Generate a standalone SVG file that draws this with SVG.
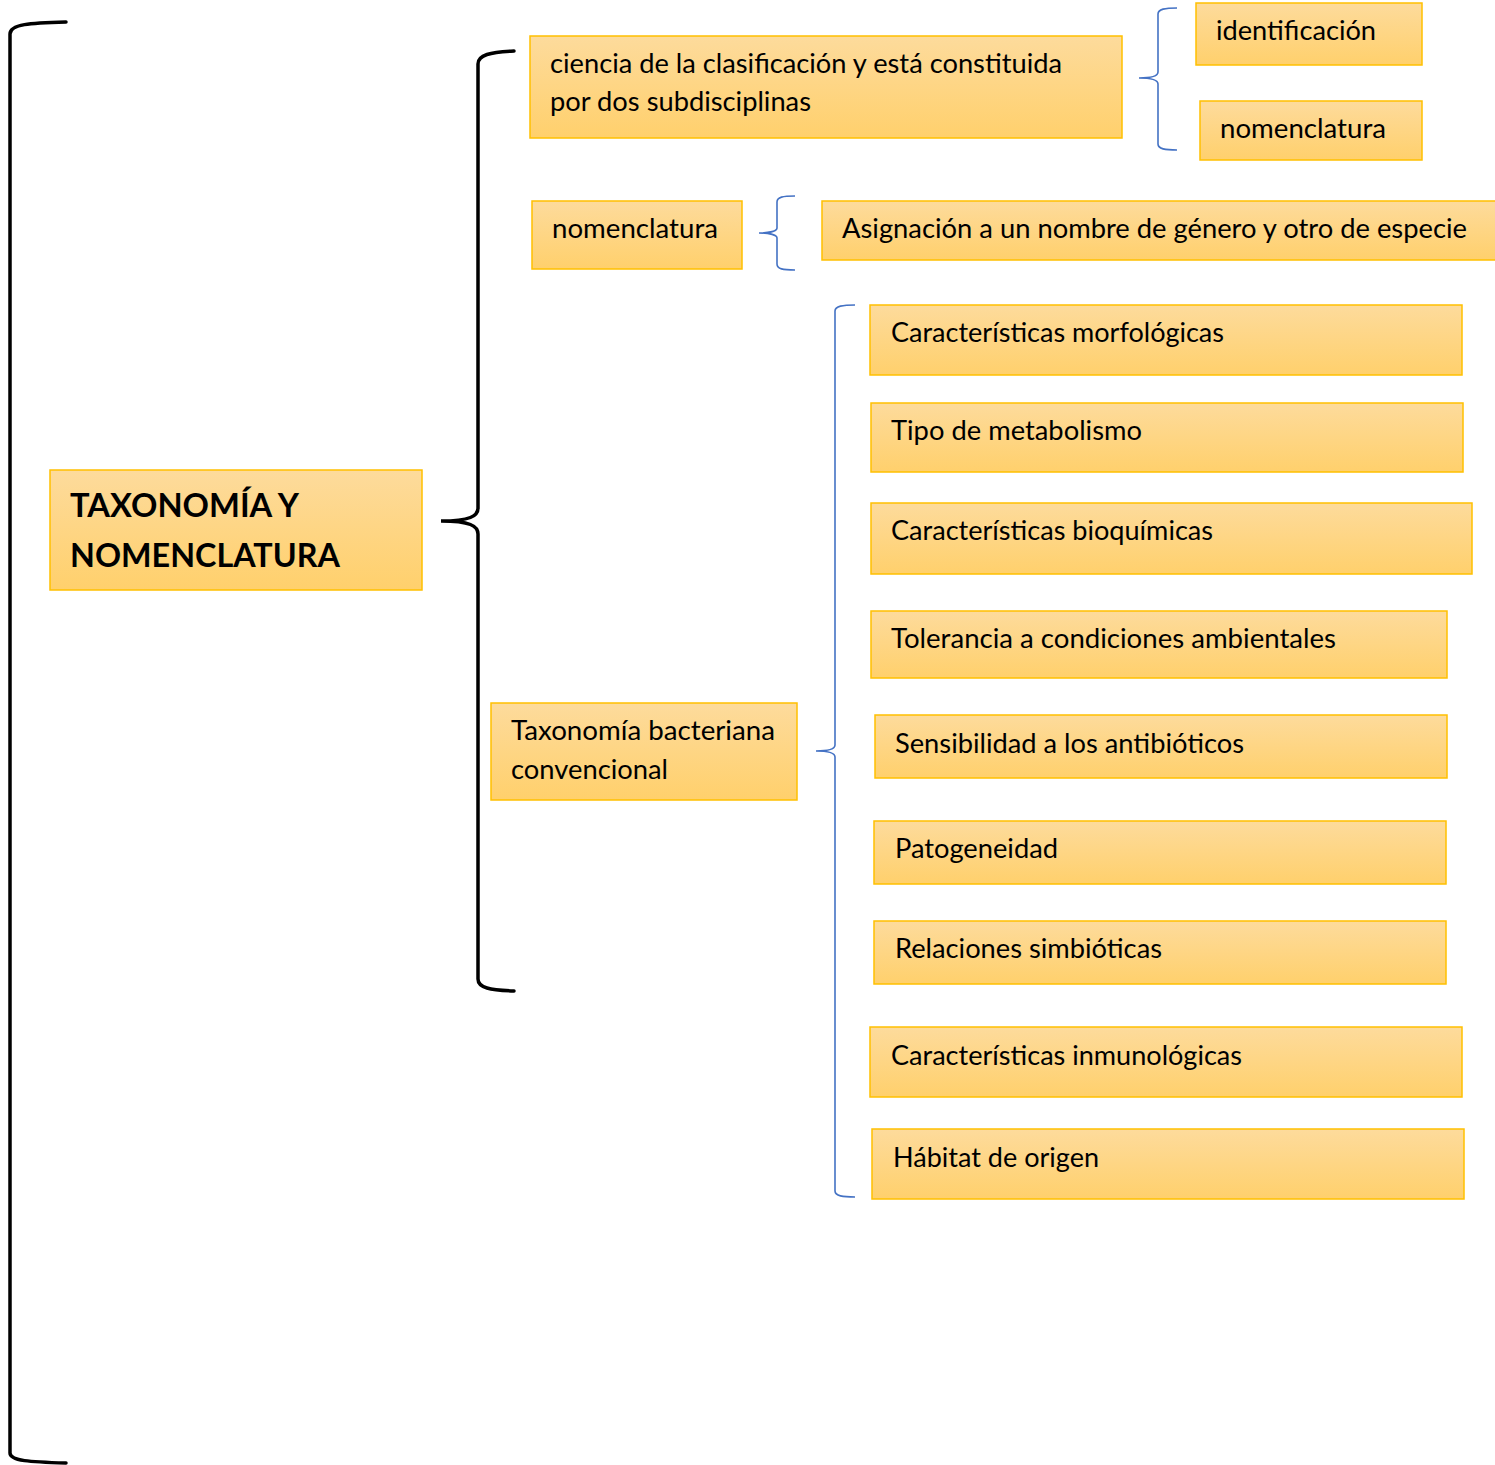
<svg xmlns="http://www.w3.org/2000/svg" width="1495" height="1465" viewBox="0 0 1495 1465">
<defs>
<linearGradient id="g" x1="0" y1="0" x2="0" y2="1">
<stop offset="0" stop-color="#FDDB9C"/>
<stop offset="1" stop-color="#FFD06C"/>
</linearGradient>
</defs>
<style>
.box{fill:url(#g);stroke:#FFC000;stroke-width:1.5}
.t{font-family:Lato,"Liberation Sans",sans-serif;font-size:26px;fill:#000}
.b{font-family:Lato,"Liberation Sans",sans-serif;font-size:32px;font-weight:bold;fill:#000}
.kb{fill:none;stroke:#000;stroke-width:3.5;stroke-linecap:round}
.kl{fill:none;stroke:#4472C4;stroke-width:1.6}
</style>
<rect width="1495" height="1465" fill="#fff"/>
<g id="connectors">
<path class="kb" d="M66,22 C30,23 10,24 10,34 L10,1453 C10,1461 30,1462 66,1463"/>
<path class="kb" d="M514,51 C490,52 478,55 478,64 L478,508 C478,516 470,521 441,521 C470,521 478,526 478,534 L478,979 C478,988 490,990 514,991"/>
<path class="kl" d="M1177,8 C1165,8 1158,9 1158,14 L1158,72 C1158,76 1150,78 1139,78 C1150,78 1158,80 1158,84 L1158,144 C1158,149 1165,150 1177,150"/>
<path class="kl" d="M795,196 C783,196 777,197 777,202 L777,228 C777,231 770,233 759,233 C770,233 777,235 777,238 L777,264 C777,269 783,270 795,270"/>
<path class="kl" d="M855,305 C843,305 835,306 835,311 L835,745 C835,749 828,751 816,751 C828,751 835,753 835,757 L835,1191 C835,1196 843,1197 855,1197"/>
</g>
<g id="n-main"><rect class="box" x="50" y="470" width="372" height="120"/>
<text class="b" x="70" y="517" textLength="229" lengthAdjust="spacingAndGlyphs">TAXONOMÍA Y</text>
<text class="b" x="70" y="567" textLength="270" lengthAdjust="spacingAndGlyphs">NOMENCLATURA</text></g>
<g id="n-ciencia"><rect class="box" x="530" y="36" width="592" height="102"/>
<text class="t" x="550" y="73" textLength="512" lengthAdjust="spacingAndGlyphs">ciencia de la clasificación y está constituida</text>
<text class="t" x="550" y="111" textLength="261" lengthAdjust="spacingAndGlyphs">por dos subdisciplinas</text></g>
<g id="n-ident"><rect class="box" x="1196" y="3" width="226" height="62"/>
<text class="t" x="1216" y="40" textLength="160" lengthAdjust="spacingAndGlyphs">identificación</text></g>
<g id="n-nom1"><rect class="box" x="1200" y="101" width="222" height="59"/>
<text class="t" x="1220" y="138" textLength="166" lengthAdjust="spacingAndGlyphs">nomenclatura</text></g>
<g id="n-nom2"><rect class="box" x="532" y="201" width="210" height="68"/>
<text class="t" x="552" y="238" textLength="166" lengthAdjust="spacingAndGlyphs">nomenclatura</text></g>
<g id="n-asig"><rect class="box" x="822" y="201" width="680" height="59"/>
<text class="t" x="842" y="238" textLength="625" lengthAdjust="spacingAndGlyphs">Asignación a un nombre de género y otro de especie</text></g>
<g id="n-taxb"><rect class="box" x="491" y="703" width="306" height="97"/>
<text class="t" x="511" y="740" textLength="264" lengthAdjust="spacingAndGlyphs">Taxonomía bacteriana</text>
<text class="t" x="511" y="779" textLength="157" lengthAdjust="spacingAndGlyphs">convencional</text></g>
<g id="n-l1"><rect class="box" x="870" y="305" width="592" height="70"/>
<text class="t" x="891" y="342" textLength="333" lengthAdjust="spacingAndGlyphs">Características morfológicas</text></g>
<g id="n-l2"><rect class="box" x="871" y="403" width="592" height="69"/>
<text class="t" x="891" y="440" textLength="251" lengthAdjust="spacingAndGlyphs">Tipo de metabolismo</text></g>
<g id="n-l3"><rect class="box" x="871" y="503" width="601" height="71"/>
<text class="t" x="891" y="540" textLength="322" lengthAdjust="spacingAndGlyphs">Características bioquímicas</text></g>
<g id="n-l4"><rect class="box" x="871" y="611" width="576" height="67"/>
<text class="t" x="891" y="648" textLength="445" lengthAdjust="spacingAndGlyphs">Tolerancia a condiciones ambientales</text></g>
<g id="n-l5"><rect class="box" x="875" y="715" width="572" height="63"/>
<text class="t" x="895" y="753" textLength="349" lengthAdjust="spacingAndGlyphs">Sensibilidad a los antibióticos</text></g>
<g id="n-l6"><rect class="box" x="874" y="821" width="572" height="63"/>
<text class="t" x="895" y="858" textLength="163" lengthAdjust="spacingAndGlyphs">Patogeneidad</text></g>
<g id="n-l7"><rect class="box" x="874" y="921" width="572" height="63"/>
<text class="t" x="895" y="958" textLength="267" lengthAdjust="spacingAndGlyphs">Relaciones simbióticas</text></g>
<g id="n-l8"><rect class="box" x="870" y="1027" width="592" height="70"/>
<text class="t" x="891" y="1065" textLength="351" lengthAdjust="spacingAndGlyphs">Características inmunológicas</text></g>
<g id="n-l9"><rect class="box" x="872" y="1129" width="592" height="70"/>
<text class="t" x="893" y="1167" textLength="206" lengthAdjust="spacingAndGlyphs">Hábitat de origen</text></g>
</svg>
